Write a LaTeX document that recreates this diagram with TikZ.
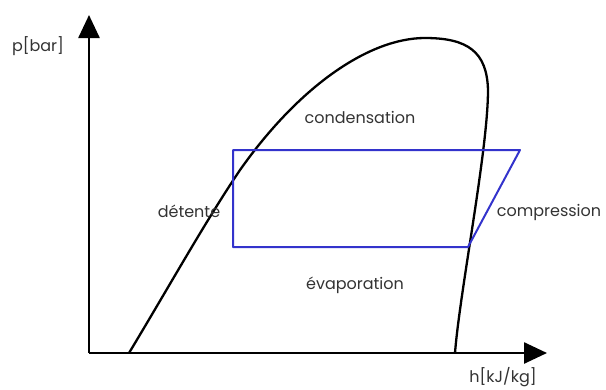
\documentclass[tikz,border=0pt]{standalone}
\usepackage{fontspec}
\setmainfont{Poppins}
\usetikzlibrary{arrows.meta}
\definecolor{txt}{HTML}{333333}
\definecolor{cyc}{HTML}{3333CC}
\tikzset{
  axis/.style={line width=2.6pt,-{Triangle[length=23pt,width=21pt]}},
  dome/.style={line width=2.3pt,line join=round},
  cycle/.style={cyc,line width=2pt,line join=round},
  lbl/.style={text=txt,font=\fontsize{16}{18}\selectfont,anchor=base,inner sep=0pt}
}
\begin{document}
\begin{tikzpicture}[x=1pt,y=-1pt]
\useasboundingbox (0,0) rectangle (606,389);
\coordinate (O) at (89,353);
\coordinate (Ytip) at (89,15);
\coordinate (Xtip) at (547,353);
\draw[axis] (O) -- (Ytip);
\draw[axis] (O) -- (Xtip);
\draw[dome] (129,353) .. controls (170,285) and (205,222) .. (240,170)
  .. controls (300,85) and (370,38) .. (425,38)
  .. controls (468,38) and (487,52) .. (488,90)
  .. controls (488,150) and (460,290) .. (455,353);
\coordinate (A) at (233,150);
\coordinate (B) at (520,150);
\coordinate (C) at (468,247);
\coordinate (D) at (233,247);
\draw[cycle] (A) -- (B) -- (C) -- (D) -- cycle;
\node[lbl] (pl) at (38,51) {p[bar]};
\node[lbl] (hl) at (503,382) {h[kJ/kg]};
\node[lbl] (cond) at (360,123) {condensation};
\node[lbl] (det) at (189,217) {détente};
\node[lbl] (comp) at (549,216) {compression};
\node[lbl] (evap) at (355,289) {évaporation};
\end{tikzpicture}
\end{document}
